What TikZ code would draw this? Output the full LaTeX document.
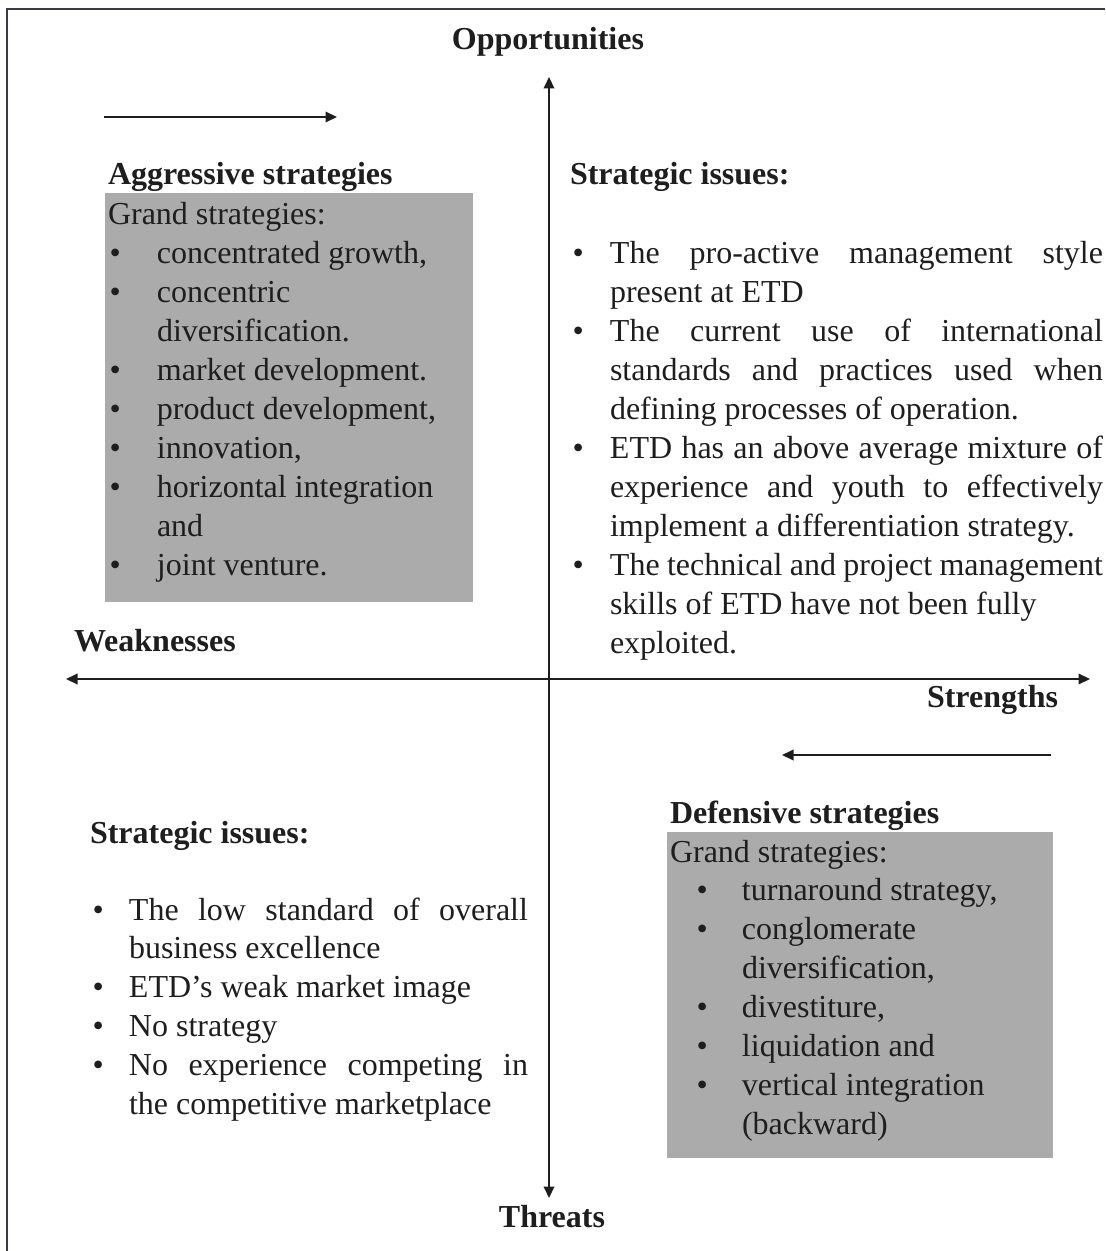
\documentclass[tikz,border=0pt]{standalone}
\usepackage{fontspec}
\setmainfont{Liberation Serif}
\usetikzlibrary{arrows.meta}
\definecolor{ink}{HTML}{1E1E1E}
\definecolor{frameline}{HTML}{3A3A4A}
\definecolor{boxgray}{HTML}{ABABAB}
% a fully justified line of given width
\newcommand\jline[2]{\makebox[#1][s]{#2}}
% bullet in a column of given width, shifted by an offset
\newcommand\bul[2]{\makebox[#1][l]{\hspace{#2}\textbullet}}
\begin{document}
\begin{tikzpicture}[x=0.4pt,y=-0.4pt,
  txt/.style={inner sep=0pt, outer sep=0pt, anchor=base west, text=ink,
    font=\fontsize{12.8pt}{15.56pt}\selectfont},
  head/.style={txt, font=\fontsize{12.8pt}{15.56pt}\selectfont\bfseries},
  tip/.style={Triangle[length=4.6pt,width=4.2pt]},
  axis/.style={line width=0.8pt, draw=ink, {Triangle[length=4.6pt,width=4.2pt]}-{Triangle[length=4.6pt,width=4.2pt]}},
  pointer/.style={line width=0.8pt, draw=ink, -{Triangle[length=4.6pt,width=4.2pt]}},
  frame/.style={line width=0.8pt, draw=frameline}]
\useasboundingbox (0,0) rectangle (1105,1251);

% outer frame
\coordinate (fbl) at (7,1251);
\coordinate (ftl) at (7,9);
\coordinate (ftr) at (1105,9);
\draw[frame] (fbl) -- (ftl) -- (ftr);

% axes
\coordinate (otip) at (549,77);
\coordinate (ttip) at (549,1198);
\coordinate (wtip) at (66,679);
\coordinate (stip) at (1090,679);
\draw[axis] (ttip) -- (otip);
\draw[axis] (wtip) -- (stip);

\node[head, anchor=base] (opp) at (548,50) {Opportunities};
\node[head, anchor=base] (thr) at (552,1227) {Threats};
\node[head] (weak) at (74,651) {Weaknesses};
\node[head] (str) at (927,707) {Strengths};

% direction pointers
\coordinate (p1a) at (104,117);
\coordinate (p1b) at (337,117);
\draw[pointer] (p1a) -- (p1b);
\coordinate (p2a) at (1051,755);
\coordinate (p2b) at (782,755);
\draw[pointer] (p2a) -- (p2b);

% aggressive strategies
\fill[boxgray] (105,193) rectangle (473,602);
\node[head] (aggh) at (108,185) {Aggressive strategies};
\node[txt] (aggl) at (108,225) {\begin{tabular}[t]{@{}l@{}l@{}}
\multicolumn{2}{@{}l@{}}{Grand strategies:}\\
\bul{19.6pt}{0.6pt} & concentrated growth,\\
\bul{19.6pt}{0.6pt} & concentric\\
 & diversification.\\
\bul{19.6pt}{0.6pt} & market development.\\
\bul{19.6pt}{0.6pt} & product development,\\
\bul{19.6pt}{0.6pt} & innovation,\\
\bul{19.6pt}{0.6pt} & horizontal integration\\
 & and\\
\bul{19.6pt}{0.6pt} & joint venture.
\end{tabular}};

% defensive strategies
\fill[boxgray] (667,832) rectangle (1053,1158);
\node[head] (defh) at (670,823) {Defensive strategies};
\node[txt] (defl) at (670,862) {\begin{tabular}[t]{@{}l@{}l@{}}
\multicolumn{2}{@{}l@{}}{Grand strategies:}\\
\bul{28.8pt}{10.6pt} & turnaround strategy,\\
\bul{28.8pt}{10.6pt} & conglomerate\\
 & diversification,\\
\bul{28.8pt}{10.6pt} & divestiture,\\
\bul{28.8pt}{10.6pt} & liquidation and\\
\bul{28.8pt}{10.6pt} & vertical integration\\
 & (backward)
\end{tabular}};

% strategic issues, strengths / opportunities
\node[head] (sih1) at (570,185) {Strategic issues:};
\node[txt] (sil1) at (570,264) {\begin{tabular}[t]{@{}l@{}l@{}}
\bul{16pt}{1pt} & \jline{197.2pt}{The pro-active management style}\\
 & present at ETD\\
\bul{16pt}{1pt} & \jline{197.2pt}{The current use of international}\\
 & \jline{197.2pt}{standards and practices used when}\\
 & defining processes of operation.\\
\bul{16pt}{1pt} & \jline{197.2pt}{ETD has an above average mixture of}\\
 & \jline{197.2pt}{experience and youth to effectively}\\
 & implement a differentiation strategy.\\
\bul{16pt}{1pt} & \jline{197.2pt}{The technical and project management}\\
 & skills of ETD have not been fully\\
 & exploited.
\end{tabular}};

% strategic issues, weaknesses / threats
\node[head] (sih2) at (90,843) {Strategic issues:};
\node[txt] (sil2) at (90,920) {\begin{tabular}[t]{@{}l@{}l@{}}
\bul{15.6pt}{1pt} & \jline{159.6pt}{The low standard of overall}\\
 & business excellence\\
\bul{15.6pt}{1pt} & ETD’s weak market image\\
\bul{15.6pt}{1pt} & No strategy\\
\bul{15.6pt}{1pt} & \jline{159.6pt}{No experience competing in}\\
 & the competitive marketplace
\end{tabular}};
\end{tikzpicture}
\end{document}
